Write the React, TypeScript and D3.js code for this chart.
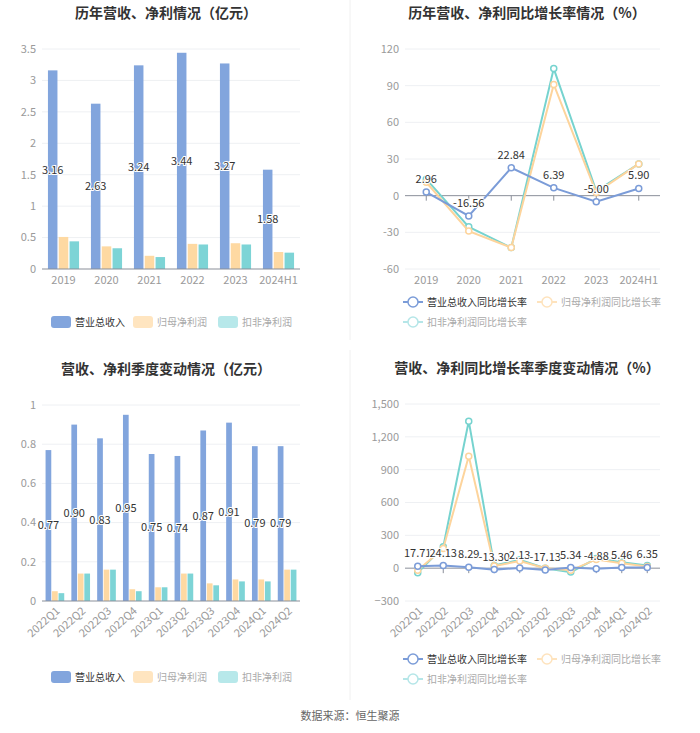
import React from 'react'
import * as d3 from 'd3'

const years = ['2019', '2020', '2021', '2022', '2023', '2024H1']
const yearRevenue = [3.16, 2.63, 3.24, 3.44, 3.27, 1.58]
const yearNetProfit = [0.51, 0.36, 0.21, 0.4, 0.41, 0.27]
const yearDeductProfit = [0.44, 0.33, 0.19, 0.39, 0.39, 0.26]

const yearRevenueGrowth = [2.96, -16.56, 22.84, 6.39, -5.0, 5.9]
const yearNetGrowth = [11, -29, -42.5, 91, 2.5, 26]
const yearDeductGrowth = [13.5, -25.5, -42.5, 104, 3.8, 26]

const quarters = ['2022Q1', '2022Q2', '2022Q3', '2022Q4', '2023Q1', '2023Q2', '2023Q3', '2023Q4', '2024Q1', '2024Q2']
const qRevenue = [0.77, 0.9, 0.83, 0.95, 0.75, 0.74, 0.87, 0.91, 0.79, 0.79]
const qNetProfit = [0.05, 0.14, 0.16, 0.06, 0.07, 0.14, 0.09, 0.11, 0.11, 0.16]
const qDeductProfit = [0.04, 0.14, 0.16, 0.05, 0.07, 0.14, 0.08, 0.1, 0.1, 0.16]

const qRevenueGrowth = [17.71, 24.13, 8.29, -13.3, 2.13, -17.13, 5.34, -4.88, 5.46, 6.35]
const qNetGrowth = [-20, 180, 1023, 20, 65, 0, -20, 80, 45, 15]
const qDeductGrowth = [-43, 195, 1343, 24, 76, 0, -36, 88, 55, 24]

const barTicks = [0, 0.5, 1, 1.5, 2, 2.5, 3, 3.5]
const qBarTicks = [0, 0.2, 0.4, 0.6, 0.8, 1]
const rateTicks = [-60, -30, 0, 30, 60, 90, 120]
const qRateTicks = [-300, 0, 300, 600, 900, 1200, 1500]

const barNames = ['营业总收入', '归母净利润', '扣非净利润']
const rateNames = ['营业总收入同比增长率', '归母净利润同比增长率', '扣非净利润同比增长率']

const font = '"Noto Sans CJK SC", "Noto Sans", sans-serif'
const blue = '#82a5dd'
const orange = '#fed9a2'
const teal = '#7dd4d6'
const lineBlue = '#7b9cd8'
const lineOrange = '#fdd49c'
const lineTeal = '#76d3cf'

type BarProps = {
  title: string
  cats: string[]
  series: number[][]
  ticks: number[]
  top: number
  bottom: number
  rotate: boolean
  legendY: number
}

const BarPanel = ({ title, cats, series, ticks, top, bottom, rotate, legendY }: BarProps) => {
  const x = d3.scaleBand().domain(cats).range([42, 300])
  const y = d3.scaleLinear().domain([0, d3.max(ticks)!]).range([bottom, top])
  const inner = d3.scaleBand().domain(['0', '1', '2']).range([0, x.bandwidth()]).paddingInner(0.12).paddingOuter(0.55)
  const colors = [blue, orange, teal]
  const fmt = (v: number) => (v === 0 ? '0' : String(+v.toFixed(2)))
  return (
    <g>
      <text x={166} y={top - 31} textAnchor="middle" fontSize={14} fontWeight="bold" fill="#333">{title}</text>
      {ticks.map(t => (
        <g key={t}>
          {t !== 0 && <line x1={42} x2={300} y1={y(t)} y2={y(t)} stroke="#eef0f3" />}
          <text x={36} y={y(t)} dy="0.35em" textAnchor="end" fontSize={11} fill="#9a9a9a">{fmt(t)}</text>
        </g>
      ))}
      {series.map((s, i) =>
        s.map((v, j) => (
          <rect key={`${i}-${j}`} x={x(cats[j])! + inner(String(i))!} width={inner.bandwidth()} y={y(v)} height={bottom - y(v)} fill={colors[i]} />
        ))
      )}
      <line x1={42} x2={300} y1={bottom} y2={bottom} stroke="#8a8f99" />
      {cats.map(c =>
        rotate ? (
          <text key={c} transform={`translate(${x(c)! + x.bandwidth() / 2 + 3},${bottom + 8}) rotate(-42)`} textAnchor="end" dy="0.35em" fontSize={11} fill="#9a9a9a">{c}</text>
        ) : (
          <text key={c} x={x(c)! + x.bandwidth() / 2} y={bottom + 15} textAnchor="middle" fontSize={11} fill="#9a9a9a">{c}</text>
        )
      )}
      {series[0].map((v, j) => (
        <text key={j} x={x(cats[j])! + inner('0')! + inner.bandwidth() / 2} y={(y(v) + bottom) / 2} dy="0.35em" textAnchor="middle" fontSize={11} fill="#333" stroke="#fff" strokeWidth={2} paintOrder="stroke">{v.toFixed(2)}</text>
      ))}
      {barNames.map((n, i) => {
        const lx = [51, 133, 218][i]
        const fill = [blue, '#ffe5c0', '#b7e8ea'][i]
        return (
          <g key={n}>
            <rect x={lx} y={legendY - 6} width={20} height={12} rx={3} fill={fill} />
            <text x={lx + 24} y={legendY} dy="0.35em" fontSize={10} fill={i === 0 ? '#333' : '#aaa'}>{n}</text>
          </g>
        )
      })}
    </g>
  )
}

type LineProps = {
  title: string
  cats: string[]
  series: number[][]
  ticks: number[]
  top: number
  bottom: number
  rotate: boolean
  legendY: number
  comma: boolean
}

const LinePanel = ({ title, cats, series, ticks, top, bottom, rotate, legendY, comma }: LineProps) => {
  const x = d3.scaleBand().domain(cats).range([405, 660])
  const y = d3.scaleLinear().domain([d3.min(ticks)!, d3.max(ticks)!]).range([bottom, top])
  const cx = (c: string) => x(c)! + x.bandwidth() / 2
  const colors = [lineBlue, lineOrange, lineTeal]
  const line = d3.line<number>().x((_, j) => cx(cats[j])).y(v => y(v))
  const fmt = comma ? d3.format(',') : (v: number) => String(v)
  const order = [2, 1, 0]
  return (
    <g>
      <text x={527} y={top - 31} textAnchor="middle" fontSize={14} fontWeight="bold" fill="#333">{title}</text>
      {ticks.map(t => (
        <g key={t}>
          {t !== 0 && <line x1={405} x2={660} y1={y(t)} y2={y(t)} stroke="#eef0f3" />}
          <text x={399} y={y(t)} dy="0.35em" textAnchor="end" fontSize={11} fill="#9a9a9a">{fmt(t)}</text>
        </g>
      ))}
      <line x1={405} x2={660} y1={y(0)} y2={y(0)} stroke="#8a8f99" />
      {cats.map(c => (
        <line key={c} x1={cx(c)} x2={cx(c)} y1={y(0)} y2={y(0) + 5} stroke="#8a8f99" />
      ))}
      {order.map(i => (
        <g key={i}>
          <path d={line(series[i])!} fill="none" stroke={colors[i]} strokeWidth={2} />
          {series[i].map((v, j) => (
            <circle key={j} cx={cx(cats[j])} cy={y(v)} r={3} fill="#fff" stroke={colors[i]} strokeWidth={1.5} />
          ))}
        </g>
      ))}
      {series[0].map((v, j) => (
        <text key={j} x={cx(cats[j])} y={y(v) - 9} textAnchor="middle" fontSize={11} fill="#333" stroke="#fff" strokeWidth={2} paintOrder="stroke">{v.toFixed(2)}</text>
      ))}
      {cats.map(c =>
        rotate ? (
          <text key={c} transform={`translate(${cx(c) + 3},${bottom + 8}) rotate(-42)`} textAnchor="end" dy="0.35em" fontSize={11} fill="#9a9a9a">{c}</text>
        ) : (
          <text key={c} x={cx(c)} y={bottom + 15} textAnchor="middle" fontSize={11} fill="#9a9a9a">{c}</text>
        )
      )}
      {rateNames.map((n, i) => {
        const lx = [403, 537, 403][i]
        const ly = legendY + (i === 2 ? 20 : 0)
        const col = [lineBlue, '#fee3bd', '#b5e6e8'][i]
        return (
          <g key={n}>
            <line x1={lx} x2={lx + 20} y1={ly} y2={ly} stroke={col} strokeWidth={2} />
            <circle cx={lx + 10} cy={ly} r={5} fill="#fff" stroke={col} strokeWidth={1.5} />
            <text x={lx + 24} y={ly} dy="0.35em" fontSize={10} fill={i === 0 ? '#333' : '#aaa'}>{n}</text>
          </g>
        )
      })}
    </g>
  )
}

export default function App() {
  return (
    <svg width={700} height={733} style={{ position: 'absolute', left: 0, top: 0, background: '#fff', fontFamily: font }}>
      <rect width={700} height={733} fill="#fff" />
      <line x1={350} x2={350} y1={0} y2={340} stroke="#f0f0f0" />
      <line x1={350} x2={350} y1={350} y2={700} stroke="#f0f0f0" />
      <BarPanel title="历年营收、净利情况（亿元）" cats={years} series={[yearRevenue, yearNetProfit, yearDeductProfit]} ticks={barTicks} top={49} bottom={269} rotate={false} legendY={322} />
      <LinePanel title="历年营收、净利同比增长率情况（%）" cats={years} series={[yearRevenueGrowth, yearNetGrowth, yearDeductGrowth]} ticks={rateTicks} top={49} bottom={269} rotate={false} legendY={302} comma={false} />
      <BarPanel title="营收、净利季度变动情况（亿元）" cats={quarters} series={[qRevenue, qNetProfit, qDeductProfit]} ticks={qBarTicks} top={405} bottom={601} rotate={true} legendY={677} />
      <LinePanel title="营收、净利同比增长率季度变动情况（%）" cats={quarters} series={[qRevenueGrowth, qNetGrowth, qDeductGrowth]} ticks={qRateTicks} top={404} bottom={601} rotate={true} legendY={659} comma={true} />
      <text x={350} y={716} dy="0.35em" textAnchor="middle" fontSize={11} fill="#666">数据来源：恒生聚源</text>
    </svg>
  )
}
